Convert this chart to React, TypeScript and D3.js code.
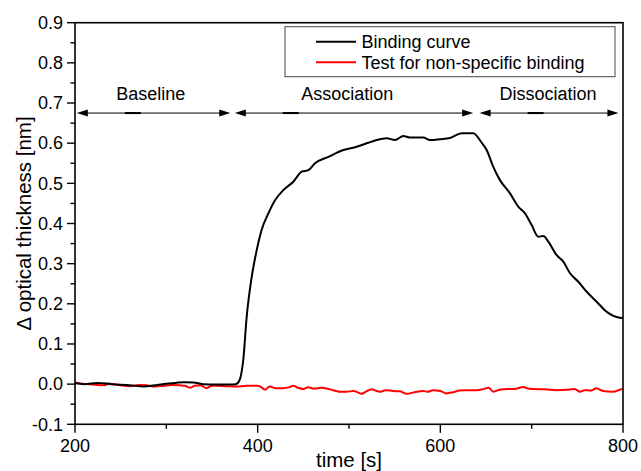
import React from "react";
import * as d3 from "d3";

// ---- Data ----
const bindingTime = [200, 210, 225, 240, 260, 275, 290, 300, 310, 320, 330, 340, 355, 370, 376, 379, 381, 384.3, 388, 393.5, 399, 404.3, 411.7, 419, 428, 439, 448.2, 455.5, 462.8, 477.4, 493.9, 508.4, 521.2, 530.4, 541.3, 550.4, 559.5, 566.8, 581.4, 588.7, 599.6, 610.6, 623.4, 636.1, 645.3, 650.7, 658, 665.3, 676.3, 685.4, 692.7, 700, 707.3, 712.8, 718.2, 727.4, 734.7, 742, 751.1, 760.3, 771.2, 782.2, 789.5, 800];
const bindingValue = [0.002, 0.0, 0.003, 0.0, -0.003, -0.006, -0.002, 0.001, 0.003, 0.005, 0.004, 0.0, -0.001, -0.001, 0.0, 0.005, 0.015, 0.062, 0.168, 0.267, 0.334, 0.384, 0.425, 0.458, 0.483, 0.504, 0.529, 0.533, 0.55, 0.566, 0.583, 0.591, 0.601, 0.608, 0.612, 0.608, 0.618, 0.614, 0.614, 0.608, 0.61, 0.613, 0.625, 0.625, 0.601, 0.583, 0.541, 0.508, 0.475, 0.442, 0.425, 0.396, 0.367, 0.369, 0.355, 0.321, 0.305, 0.276, 0.255, 0.23, 0.205, 0.18, 0.17, 0.164];

const controlTime = [200, 207, 216, 224, 231, 238, 248, 260, 270, 278, 288, 297, 306, 315, 320, 326, 331, 337, 344, 350, 355, 365, 377, 388, 399, 403, 408, 413, 420, 428, 434, 439, 444, 450, 455, 462, 470, 479, 486, 490, 497, 505, 509, 514, 519, 525, 529, 534, 540, 548, 556, 563, 572, 581, 586, 592, 600, 603, 607, 614, 621, 629, 640, 646, 653, 658, 665, 673, 681, 691, 696, 702, 715, 727, 738, 747, 753, 758, 765, 771, 778, 789, 799, 800];
const controlValue = [0.004, 0.001, 0.0, -0.002, -0.003, 0.001, -0.002, -0.005, -0.002, -0.003, -0.006, -0.004, -0.002, -0.003, -0.004, -0.009, -0.004, -0.003, -0.01, -0.004, -0.004, -0.005, -0.006, -0.004, -0.004, -0.006, -0.014, -0.006, -0.01, -0.01, -0.008, -0.004, -0.009, -0.012, -0.008, -0.011, -0.009, -0.013, -0.017, -0.019, -0.019, -0.017, -0.02, -0.024, -0.018, -0.013, -0.016, -0.019, -0.015, -0.017, -0.018, -0.024, -0.02, -0.017, -0.019, -0.015, -0.017, -0.02, -0.023, -0.02, -0.016, -0.015, -0.015, -0.013, -0.009, -0.019, -0.014, -0.012, -0.012, -0.007, -0.011, -0.012, -0.013, -0.015, -0.014, -0.012, -0.019, -0.015, -0.016, -0.01, -0.017, -0.019, -0.013, -0.013];

const xTicks = [200, 400, 600, 800];
const xMinorTicks = [300, 500, 700];
const yTicks = [-0.1, 0.0, 0.1, 0.2, 0.3, 0.4, 0.5, 0.6, 0.7, 0.8, 0.9];
const yMinorTicks = [-0.05, 0.05, 0.15, 0.25, 0.35, 0.45, 0.55, 0.65, 0.75, 0.85];

const phaseLabels = ["Baseline", "Association", "Dissociation"];
const phaseStart = [202, 375, 643];
const phaseEnd = [370, 636, 795];
const phaseLabelX = [283, 498, 718];
const phaseY = 0.675;

const seriesNames = ["Binding curve", "Test for non-specific binding"];
const seriesColors = ["#000000", "#ff0000"];

// ---- Layout ----
const W = 641, H = 471;
const M = { left: 75, right: 18, top: 22.7, bottom: 46.7 };
const FONT = "'Liberation Sans', Arial, Helvetica, sans-serif";

export default function App() {
  const x = d3.scaleLinear().domain([200, 800]).range([M.left, W - M.right]);
  const y = d3.scaleLinear().domain([-0.1, 0.9]).range([H - M.bottom, M.top]);
  const line = d3
    .line<[number, number]>()
    .x((d) => x(d[0]))
    .y((d) => y(d[1]))
    .curve(d3.curveMonotoneX);

  const binding = bindingTime.map((t, i) => [t, bindingValue[i]] as [number, number]);
  const control = controlTime.map((t, i) => [t, controlValue[i]] as [number, number]);

  const x0 = x.range()[0], x1 = x.range()[1];
  const y0 = y.range()[0], y1 = y.range()[1];
  const ay = y(phaseY);
  const headL = 11, headW = 3.5;

  return (
    <svg width={W} height={H} style={{ position: "absolute", left: 0, top: 0, background: "#fff" }} fontFamily={FONT}>
      <rect x={0} y={0} width={W} height={H} fill="#fff" />
      {/* curves */}
      <path d={line(control) || ""} fill="none" stroke={seriesColors[1]} strokeWidth={2} strokeLinejoin="round" />
      <path d={line(binding) || ""} fill="none" stroke={seriesColors[0]} strokeWidth={2} strokeLinejoin="round" />

      {/* frame */}
      <rect x={x0} y={y1} width={x1 - x0} height={y0 - y1} fill="none" stroke="#000" strokeWidth={1.6} />

      {/* y ticks */}
      {yTicks.map((t) => (
        <g key={"y" + t}>
          <line x1={x0 - 8} x2={x0} y1={y(t)} y2={y(t)} stroke="#000" strokeWidth={1.4} />
          <text x={x0 - 12} y={y(t) + 6.3} textAnchor="end" fontSize={18} fill="#000">
            {t.toFixed(1)}
          </text>
        </g>
      ))}
      {yMinorTicks.map((t) => (
        <line key={"ym" + t} x1={x0 - 4.5} x2={x0} y1={y(t)} y2={y(t)} stroke="#000" strokeWidth={1.4} />
      ))}
      {/* x ticks */}
      {xTicks.map((t) => (
        <g key={"x" + t}>
          <line x1={x(t)} x2={x(t)} y1={y0} y2={y0 + 8.5} stroke="#000" strokeWidth={1.4} />
          <text x={x(t)} y={y0 + 27.7} textAnchor="middle" fontSize={18} fill="#000">
            {t}
          </text>
        </g>
      ))}
      {xMinorTicks.map((t) => (
        <line key={"xm" + t} x1={x(t)} x2={x(t)} y1={y0} y2={y0 + 4.5} stroke="#000" strokeWidth={1.4} />
      ))}

      {/* axis titles */}
      <text x={(x0 + x1) / 2} y={466.5} textAnchor="middle" fontSize={20.5} fill="#000">
        time [s]
      </text>
      <text
        transform={`translate(31,${(y0 + y1) / 2}) rotate(-90)`}
        textAnchor="middle"
        fontSize={20.5}
        fill="#000"
      >
        Δ optical thickness [nm]
      </text>

      {/* phase arrows */}
      {phaseLabels.map((lab, i) => {
        const xs = x(phaseStart[i]);
        const xe = x(phaseEnd[i]);
        return (
          <g key={lab}>
            <line x1={xs + 4} x2={xe - 4} y1={ay} y2={ay} stroke="#000" strokeWidth={1} />
            <line x1={xs + 48} x2={xs + 64} y1={ay} y2={ay} stroke="#000" strokeWidth={2} />
            <path d={`M${xs},${ay} L${xs + headL},${ay - headW} L${xs + headL},${ay + headW} Z`} fill="#000" />
            <path d={`M${xe},${ay} L${xe - headL},${ay - headW} L${xe - headL},${ay + headW} Z`} fill="#000" />
            <text x={x(phaseLabelX[i])} y={100} textAnchor="middle" fontSize={18} fill="#000">
              {lab}
            </text>
          </g>
        );
      })}

      {/* legend */}
      <rect x={285} y={26.7} width={330} height={50} fill="#fff" stroke="#444" strokeWidth={1} />
      {seriesNames.map((n, i) => (
        <g key={n}>
          <line x1={316} x2={356} y1={41.7 + i * 20.6} y2={41.7 + i * 20.6} stroke={seriesColors[i]} strokeWidth={2} />
          <text x={361.5} y={48.3 + i * 20.8} fontSize={18} fill="#000">
            {n}
          </text>
        </g>
      ))}
    </svg>
  );
}
